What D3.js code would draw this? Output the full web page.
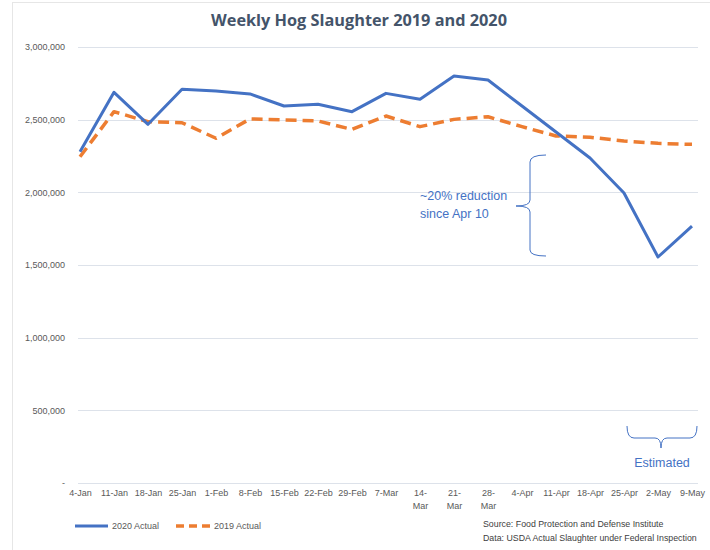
<!DOCTYPE html>
<html>
<head>
<meta charset="utf-8">
<script src="https://cdn.jsdelivr.net/npm/d3@7"></script>
<style>
  body { margin: 0; background: #fff; }
  svg { display: block; }
</style>
</head>
<body>
<svg id="chart" width="710" height="550"></svg>
<script>
const categories = ["4-Jan","11-Jan","18-Jan","25-Jan","1-Feb","8-Feb","15-Feb","22-Feb","29-Feb","7-Mar","14-Mar","21-Mar","28-Mar","4-Apr","11-Apr","18-Apr","25-Apr","2-May","9-May"];
const actual2020 = [2280000,2688000,2468000,2709000,2697000,2677000,2594000,2606000,2555000,2681000,2640000,2800000,2773000,2594000,2415000,2236000,1995000,1555000,1768000];
const actual2019 = [2245000,2555000,2486000,2479000,2372000,2505000,2498000,2491000,2433000,2525000,2452000,2502000,2520000,2452000,2388000,2379000,2353000,2337000,2330000];
const yTicks = [0,500000,1000000,1500000,2000000,2500000,3000000];
const seriesNames = ["2020 Actual","2019 Actual"];

const svg = d3.select("#chart");
const font = "'Liberation Sans', Arial, sans-serif";
const gray = "#595959";

// outer border
svg.append("rect").attr("x",12.5).attr("y",2.5).attr("width",700).attr("height",560)
  .attr("fill","none").attr("stroke","#e6e6e6");

const x = d3.scalePoint().domain(categories).range([80, 692]);
const y = d3.scaleLinear().domain([0, 3000000]).range([483, 47]);

// title
svg.append("text").attr("x",359).attr("y",26).attr("text-anchor","middle")
  .attr("font-family","'Open Sans', sans-serif").attr("font-weight",700)
  .attr("font-size",16.3).attr("fill","#44546a").text("Weekly Hog Slaughter 2019 and 2020");

// gridlines
svg.append("g").selectAll("line").data(yTicks).join("line")
  .attr("x1",78).attr("x2",698)
  .attr("y1",d=>Math.round(y(d))+0.5).attr("y2",d=>Math.round(y(d))+0.5)
  .attr("stroke","#dde2ea").attr("stroke-width",1);

// y axis labels
const yAxis = d3.axisLeft(y).tickValues(yTicks).tickSize(0).tickPadding(0)
  .tickFormat(d => d === 0 ? "-" : d3.format(",")(d));
const yg = svg.append("g").attr("transform","translate(65,0)").call(yAxis);
yg.select(".domain").remove();
yg.selectAll("text").attr("font-family",font).attr("font-size",9).attr("fill",gray);

// x axis labels
const xAxis = d3.axisBottom(x).tickSize(0).tickPadding(0);
const xg = svg.append("g").attr("transform","translate(0,490)").call(xAxis);
xg.select(".domain").remove();
xg.selectAll("text").attr("font-family",font).attr("font-size",9).attr("fill",gray)
  .each(function(d){
    const t = d3.select(this);
    const wrap = ["14-Mar","21-Mar","28-Mar"].includes(d);
    if (wrap) {
      const parts = d.split("-");
      t.text(null);
      t.append("tspan").attr("x",0).attr("dy","0.71em").text(parts[0]+"-");
      t.append("tspan").attr("x",0).attr("dy","1.35em").text(parts[1]);
    }
  });

// lines
const line = d3.line().x((d,i)=>x(categories[i])).y(d=>y(d));
svg.append("path").datum(actual2019).attr("d",line).attr("fill","none")
  .attr("stroke","#ed7d31").attr("stroke-width",3.5).attr("stroke-dasharray","11,6")
  .attr("stroke-linejoin","round");
svg.append("path").datum(actual2020).attr("d",line).attr("fill","none")
  .attr("stroke","#4472c4").attr("stroke-width",3).attr("stroke-linejoin","round");

// legend
const lg = svg.append("g").attr("font-family",font).attr("font-size",9).attr("fill",gray);
lg.append("line").attr("x1",75).attr("x2",108).attr("y1",526).attr("y2",526)
  .attr("stroke","#4472c4").attr("stroke-width",3);
lg.append("text").attr("x",112).attr("y",529).text(seriesNames[0]);
lg.append("line").attr("x1",176).attr("x2",210).attr("y1",526).attr("y2",526)
  .attr("stroke","#ed7d31").attr("stroke-width",3.5).attr("stroke-dasharray","8,5");
lg.append("text").attr("x",214).attr("y",529).text(seriesNames[1]);

// source
const sg = svg.append("g").attr("font-family",font).attr("font-size",8.8).attr("fill","#404040");
sg.append("text").attr("x",483).attr("y",527).text("Source: Food Protection and Defense Institute");
sg.append("text").attr("x",483).attr("y",541).text("Data: USDA Actual Slaughter under Federal Inspection");

// annotations
const blue = "#4472c4";
svg.append("text").attr("x",420).attr("y",200).attr("font-family",font).attr("font-size",12.5)
  .attr("fill",blue).text("~20% reduction");
svg.append("text").attr("x",420).attr("y",218).attr("font-family",font).attr("font-size",12.5)
  .attr("fill",blue).text("since Apr 10");
svg.append("path").attr("fill","none").attr("stroke",blue).attr("stroke-width",1)
  .attr("d","M546,155 Q530,155 530,162 L530,200 Q530,206 516,206 Q530,206 530,212 L530,250 Q530,256 546,256");
svg.append("path").attr("fill","none").attr("stroke",blue).attr("stroke-width",1)
  .attr("d","M627,426 Q627,438 634,438 L655,438 Q661,438 661,448 Q661,438 667,438 L690,438 Q697,438 697,426");
svg.append("text").attr("x",662).attr("y",467).attr("text-anchor","middle").attr("font-family",font)
  .attr("font-size",12.5).attr("fill",blue).text("Estimated");
</script>
</body>
</html>
